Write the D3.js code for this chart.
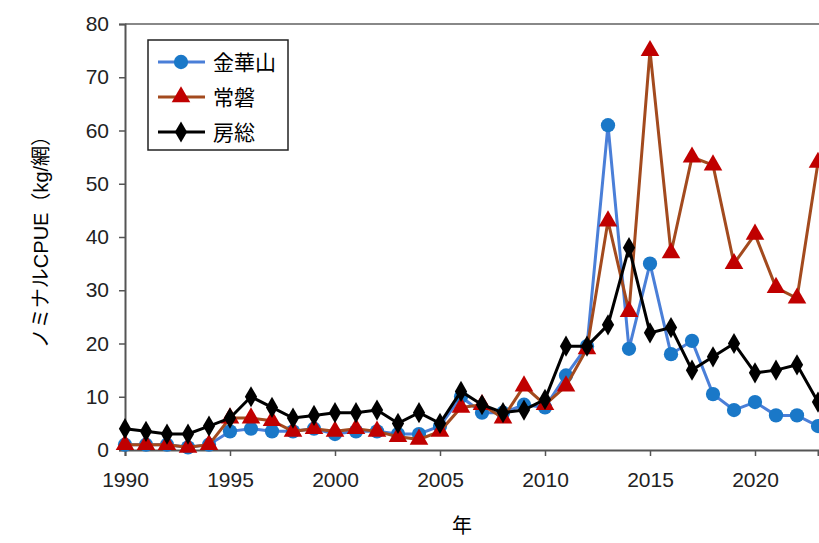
<!DOCTYPE html><html><head><meta charset="utf-8"><script src="https://cdn.jsdelivr.net/npm/d3@7"></script>
<style>body{margin:0;background:#fff}text{font-family:"Liberation Sans","Noto Sans CJK JP",sans-serif}</style></head><body><svg id="c" width="819" height="543"></svg><script>
const years=d3.range(1990,2024);
const kinkazan=[1,1,1,0.5,1,3.5,4,3.5,3.5,4,3,3.5,3.5,3,3,4.5,10,7,7,8.5,8,14,19.5,61,19,35,18,20.5,10.5,7.5,9,6.5,6.5,4.5];
const joban=[1,1,1,0.5,1,6,6,5.5,3.5,4,3.5,4,3.5,2.5,2,3.5,8,8.5,6,12,8.5,12,19,43,26,75,37,55,53.5,35,40.5,30.5,28.5,54];
const boso=[4,3.5,3,3,4.5,6,10,8,6,6.5,7,7,7.5,5,7,5,11,8.5,7,7.5,9.5,19.5,19.5,23.5,38,22,23,15,17.5,20,14.5,15,16,9];
const yTicks=[0,10,20,30,40,50,60,70,80];
const xTicks=[1990,1995,2000,2005,2010,2015,2020];
const svg=d3.select("#c");
const x=d3.scaleLinear().domain([1990,2023]).range([125,818]);
const y=d3.scaleLinear().domain([0,80]).range([450,24]);
svg.append("line").attr("x1",125).attr("x2",819).attr("y1",y(80)).attr("y2",y(80)).attr("stroke","#888").attr("stroke-width",2);
const ya=svg.append("g").attr("transform","translate(125,0)").call(d3.axisLeft(y).tickValues(yTicks).tickSize(6).tickPadding(10));
const xa=svg.append("g").attr("transform","translate(0,450)").call(d3.axisBottom(x).tickValues(xTicks).tickFormat(d3.format("d")).tickSize(6).tickPadding(16));
[ya,xa].forEach(g=>{g.selectAll("text").attr("font-size",21).attr("fill","#222");g.select(".domain").attr("stroke","#555").attr("stroke-width",2);g.selectAll(".tick line").attr("stroke","#555").attr("stroke-width",1.5);});
svg.append("text").attr("x",462).attr("y",533).attr("text-anchor","middle").attr("font-size",20).text("年");
svg.append("text").attr("transform","translate(48,237) rotate(-90)").attr("text-anchor","middle").attr("font-size",20).text("ノミナルCPUE（kg/網）");
const series=[
 {name:"金華山",data:kinkazan,line:"#4a7fd8",mk:"#1a78c8",shape:d3.symbolCircle,size:160},
 {name:"常磐",data:joban,line:"#a34a1e",mk:"#c00000",shape:d3.symbolTriangle,size:150},
 {name:"房総",data:boso,line:"#000",mk:"#000",shape:d3.symbolDiamond,size:130}];
const ln=d3.line().x((d,i)=>x(years[i])).y(d=>y(d));
series.forEach(s=>{
 const g=svg.append("g");
 g.append("path").attr("d",ln(s.data)).attr("fill","none").attr("stroke",s.line).attr("stroke-width",3);
 g.selectAll("path.m").data(s.data).join("path").attr("class","m").attr("d",d3.symbol(s.shape,s.size)).attr("transform",(d,i)=>`translate(${x(years[i])},${y(d)})`).attr("fill",s.mk);
});
const lg=svg.append("g");
lg.append("rect").attr("x",148).attr("y",40).attr("width",140).attr("height",110).attr("fill","#fff").attr("stroke","#222").attr("stroke-width",1.5);
series.forEach((s,i)=>{const yy=62+i*35;
 lg.append("line").attr("x1",158).attr("x2",205).attr("y1",yy).attr("y2",yy).attr("stroke",s.line).attr("stroke-width",3);
 lg.append("path").attr("d",d3.symbol(s.shape,s.size)).attr("transform",`translate(181,${yy})`).attr("fill",s.mk);
 lg.append("text").attr("x",213).attr("y",yy+8).attr("font-size",21).text(s.name);});
</script></body></html>
